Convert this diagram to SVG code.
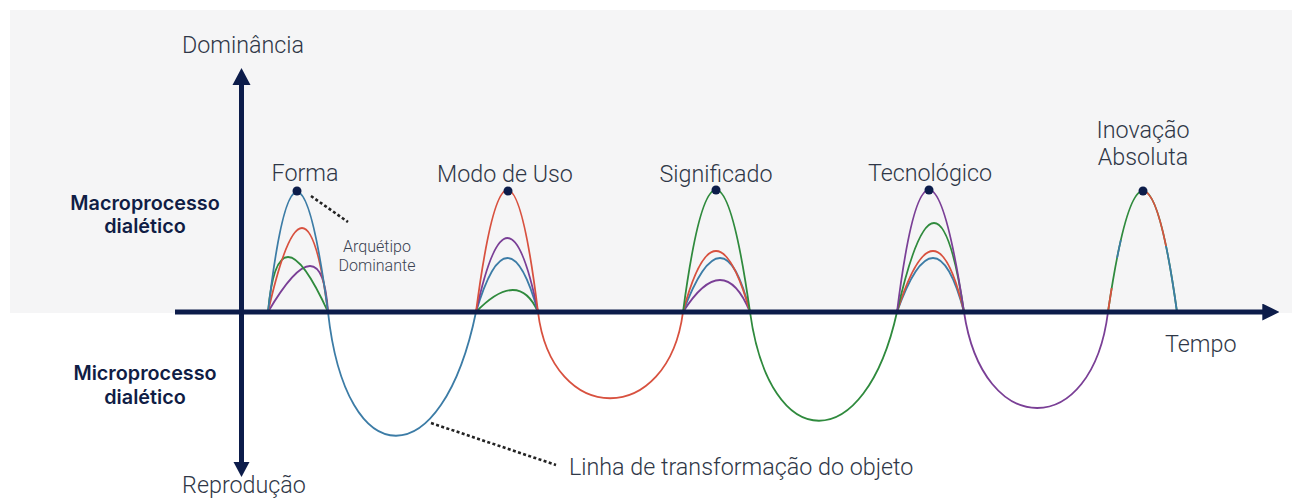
<svg xmlns="http://www.w3.org/2000/svg" width="1299" height="500" viewBox="0 0 1299 500">
  <defs>
    <style>
      .lbl { font-family: Roboto, "Liberation Sans", sans-serif; font-weight: 300; font-size: 23.3px; fill: #2f3747; }
      .small { font-family: Roboto, "Liberation Sans", sans-serif; font-weight: 300; font-size: 16px; fill: #3a4252; }
      .bold { font-family: Inter, Roboto, "Liberation Sans", sans-serif; font-weight: 600; font-size: 19.8px; fill: #101d45; }
      .c { fill: none; stroke-width: 1.8; stroke-linecap: round; }
      .blue { stroke: #3c7ca6; }
      .red { stroke: #d8513f; }
      .green { stroke: #2f8a3d; }
      .purple { stroke: #7a3f96; }
      .dot { fill: #0c1c4a; }
      .axis { stroke: #0c1c4a; stroke-width: 5; fill: none; }
      .dash { stroke: #222; stroke-width: 2.6; stroke-dasharray: 3 2.4; fill: none; }
    </style>
    <marker id="ah" viewBox="0 0 10 10" refX="1" refY="5" markerWidth="3.4" markerHeight="3.4" orient="auto" markerUnits="strokeWidth">
      <path d="M0,0 L10,5 L0,10 Z" fill="#0c1c4a"/>
    </marker>
    <clipPath id="cRed">
      <rect x="1100" y="288" width="43.5" height="32"/>
      <rect x="1143.5" y="180" width="45" height="66"/>
    </clipPath>
    <clipPath id="cBlue">
      <rect x="1100" y="240" width="43.5" height="18"/>
      <rect x="1143.5" y="246" width="45" height="74"/>
    </clipPath>
  </defs>

  <rect x="10" y="10" width="1282" height="303" fill="#f5f5f6"/>

  <g id="connectors">
    <path class="c blue" d="M328,312 C346,477 442,477 476,312"/>
    <path class="c red" d="M538,312 C552,427 668,427 683,312"/>
    <path class="c green" d="M750,312 C770,457 865,457 897,312"/>
    <path class="c purple" d="M964,312 C983,440 1092,440 1108,312"/>
    <path class="dash" d="M311,196 L348,222"/>
    <path class="dash" d="M431,423 L556,465"/>
  </g>

  <g id="node-forma">
    <path class="c purple" d="M268,312 Q322,220 328,312"/>
    <path class="c green" d="M268,312 Q278,202 328,312"/>
    <path class="c red" d="M268,312 Q306,144 328,312"/>
    <path class="c blue" d="M268,312 Q296,72 328,312"/>
    <circle class="dot" cx="297" cy="191" r="4.5"/>
    <text class="lbl" x="305" y="181" text-anchor="middle">Forma</text>
    <text class="small" x="377" y="252" text-anchor="middle">Arquétipo</text>
    <text class="small" x="377" y="271" text-anchor="middle">Dominante</text>
  </g>

  <g id="node-modo">
    <path class="c green" d="M476,312 Q518.5,268 538,312"/>
    <path class="c blue" d="M476,312 Q508,204 538,312"/>
    <path class="c purple" d="M476,312 Q508,164 538,312"/>
    <path class="c red" d="M476,312 Q508,68 538,312"/>
    <circle class="dot" cx="508" cy="191" r="4.5"/>
    <text class="lbl" x="505" y="182" text-anchor="middle">Modo de Uso</text>
  </g>

  <g id="node-significado">
    <path class="c purple" d="M683,312 Q723.5,248 750,312"/>
    <path class="c blue" d="M683,312 Q723.5,204 750,312"/>
    <path class="c red" d="M683,312 Q715.5,190 750,312"/>
    <path class="c green" d="M683,312 Q715.5,68 750,312"/>
    <circle class="dot" cx="716" cy="190" r="4.5"/>
    <text class="lbl" x="716" y="182" text-anchor="middle">Significado</text>
  </g>

  <g id="node-tecnologico">
    <path class="c blue" d="M897,312 Q935.5,204 964,312"/>
    <path class="c red" d="M897,312 Q935.5,190 964,312"/>
    <path class="c green" d="M897,312 Q937.5,134 964,312"/>
    <path class="c purple" d="M897,312 Q927.5,68 964,312"/>
    <circle class="dot" cx="929" cy="190" r="4.5"/>
    <text class="lbl" x="930" y="181" text-anchor="middle">Tecnológico</text>
  </g>

  <g id="node-inovacao">
    <path class="c green" d="M1108,312 Q1143.5,70 1177,312"/>
    <path class="c red" clip-path="url(#cRed)" d="M1108,312 Q1143.5,70 1177,312"/>
    <path class="c blue" clip-path="url(#cBlue)" d="M1108,312 Q1143.5,70 1177,312"/>
    <circle class="dot" cx="1143" cy="191" r="4.5"/>
    <text class="lbl" x="1143" y="138" text-anchor="middle">Inovação</text>
    <text class="lbl" x="1143" y="165" text-anchor="middle">Absoluta</text>
  </g>

  <g id="axes">
    <line class="axis" x1="175" y1="312" x2="1264" y2="312" marker-end="url(#ah)"/>
    <line class="axis" x1="241.5" y1="85" x2="241.5" y2="462"/>
    <path d="M232.5,85 L241.5,68 L250.5,85 Z" fill="#0c1c4a"/>
    <path d="M233.5,462 L241.5,477 L249.5,462 Z" fill="#0c1c4a"/>
  </g>

  <g id="labels">
    <text class="lbl" x="243" y="53" text-anchor="middle">Dominância</text>
    <text class="lbl" x="244" y="493" text-anchor="middle">Reprodução</text>
    <text class="lbl" x="1165" y="352">Tempo</text>
    <text class="lbl" x="569" y="475">Linha de transformação do objeto</text>
    <text class="bold" x="145" y="210" text-anchor="middle">Macroprocesso</text>
    <text class="bold" x="145" y="233" text-anchor="middle">dialético</text>
    <text class="bold" x="145" y="380" text-anchor="middle">Microprocesso</text>
    <text class="bold" x="145" y="404" text-anchor="middle">dialético</text>
  </g>
</svg>
